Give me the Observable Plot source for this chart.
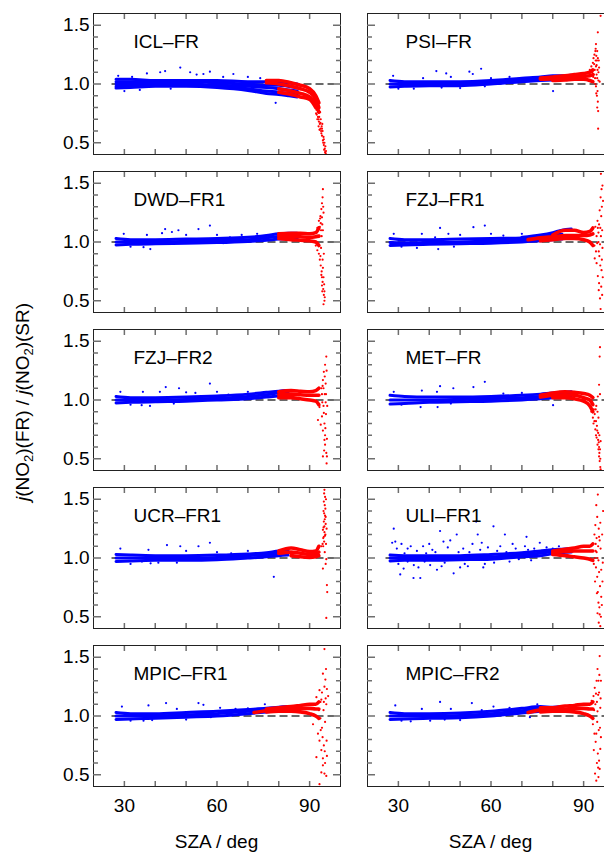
<!DOCTYPE html>
<html>
<head>
<meta charset="utf-8">
<script src="https://cdn.jsdelivr.net/npm/d3@7"></script>
<script src="https://cdn.jsdelivr.net/npm/@observablehq/plot@0.6"></script>
<style>
html, body { margin: 0; padding: 0; background: #fff; width: 604px; height: 852px; overflow: hidden; }
#fig { position: relative; width: 604px; height: 852px; overflow: hidden; font-family: "Liberation Sans", Arial, sans-serif; color: #000; }
.panel { position: absolute; }
.panel svg { max-width: none !important; display: block; }
.xtitle { position: absolute; top: 832px; width: 200px; margin-left: -100px; text-align: center; font-size: 19px; line-height: 19px; white-space: nowrap; }
#ytitle { position: absolute; left: 22px; top: 402px; transform: translate(-50%, -50%) rotate(-90deg); font-size: 19px; line-height: 19px; white-space: nowrap; }
#ytitle sub { font-size: 13px; line-height: 0; vertical-align: -4px; }
</style>
</head>
<body>
<div id="fig">
  <div id="ytitle"><i>j</i>(NO<sub>2</sub>)(FR) / <i>j</i>(NO<sub>2</sub>)(SR)</div>
</div>
<script>
// ---------------- data ----------------
const panelNames = ["ICL–FR", "PSI–FR", "DWD–FR1", "FZJ–FR1", "FZJ–FR2", "MET–FR", "UCR–FR1", "ULI–FR1", "MPIC–FR1", "MPIC–FR2"];

const xTickValues = [30, 40, 50, 60, 70, 80, 90];
const xLabelValues = [30, 60, 90];
const yMajorTicks = [0.5, 1.0, 1.5];
const yMinorTicks = [0.6, 0.7, 0.8, 0.9, 1.1, 1.2, 1.3, 1.4];
const xTitle = "SZA / deg";
const refRatio = [1.0];
const refSzaRange = [26, 98];

// blue (SZA < 90) dense bands: individual day curves sampled on a SZA grid
const blueGrid = [27.3, 32, 40, 50, 60, 70, 76, 80, 83, 86];
const blueCurves = [
  [ // ICL-FR
    [1.04, 1.04, 1.03, 1.03, 1.03, 1.02, 1.02, 1.02, 1.01, 1.00],
    [1.02, 1.02, 1.02, 1.02, 1.01, 1.00, 0.99, 0.99, 0.98, 0.97],
    [1.00, 1.00, 1.00, 1.00, 0.99, 0.98, 0.97, 0.96, 0.95, 0.94],
    [0.98, 0.98, 0.99, 0.99, 0.98, 0.96, 0.94, 0.93, 0.92, 0.91],
    [0.965, 0.97, 0.98, 0.98, 0.97, 0.945, 0.92, 0.91, 0.90, 0.89]
  ],
  [ // PSI-FR
    [1.03, 1.02, 1.02, 1.02, 1.03, 1.05, 1.06, 1.07, 1.07, 1.075],
    [1.00, 1.00, 1.00, 1.00, 1.015, 1.035, 1.045, 1.05, 1.055, 1.06],
    [0.975, 0.98, 0.985, 0.985, 1.00, 1.02, 1.03, 1.035, 1.04, 1.045]
  ],
  [ // DWD-FR1
    [1.03, 1.02, 1.02, 1.025, 1.03, 1.04, 1.055, 1.07, 1.075, 1.075],
    [1.00, 1.00, 1.00, 1.005, 1.013, 1.02, 1.035, 1.047, 1.05, 1.055],
    [0.975, 0.98, 0.985, 0.99, 0.995, 1.005, 1.015, 1.025, 1.03, 1.035]
  ],
  [ // FZJ-FR1
    [null, null, null, null, null, 1.04, 1.06, 1.08, 1.10, 1.11],
    [1.03, 1.02, 1.02, 1.025, 1.03, 1.035, 1.05, 1.06, 1.065, null],
    [0.995, 0.993, 0.995, 1.00, 1.01, 1.02, 1.03, 1.04, 1.045, null],
    [0.97, 0.975, 0.98, 0.985, 0.99, 1.00, 1.01, 1.02, 1.025, null]
  ],
  [ // FZJ-FR2
    [1.03, 1.02, 1.02, 1.025, 1.035, 1.05, 1.065, 1.075, 1.08, null],
    [1.00, 1.00, 1.00, 1.005, 1.015, 1.03, 1.045, 1.06, 1.065, null],
    [0.975, 0.98, 0.985, 0.99, 1.00, 1.01, 1.025, 1.035, 1.045, null]
  ],
  [ // MET-FR
    [1.04, 1.03, 1.025, 1.025, 1.03, 1.04, 1.05, 1.06, 1.065, 1.07],
    [1.00, 1.00, 1.00, 1.005, 1.013, 1.02, 1.03, 1.04, 1.045, 1.05],
    [0.965, 0.97, 0.98, 0.985, 0.99, 1.00, 1.01, 1.02, 1.025, 1.03]
  ],
  [ // UCR-FR1
    [1.03, 1.025, 1.02, 1.02, 1.025, 1.035, 1.045, 1.06, 1.065, null],
    [1.00, 1.00, 1.00, 1.00, 1.005, 1.02, 1.03, 1.04, 1.045, null],
    [0.97, 0.975, 0.98, 0.98, 0.985, 1.00, 1.01, 1.02, 1.025, null]
  ],
  [ // ULI-FR1
    [1.025, 1.02, 1.02, 1.02, 1.03, 1.045, 1.06, 1.07, 1.075, 1.08],
    [1.00, 1.00, 1.00, 1.005, 1.01, 1.027, 1.04, 1.055, 1.06, 1.065],
    [0.975, 0.98, 0.98, 0.985, 0.99, 1.01, 1.02, 1.035, 1.045, 1.05]
  ],
  [ // MPIC-FR1
    [1.03, 1.02, 1.02, 1.03, 1.04, 1.055, 1.065, 1.075, 1.08, null],
    [1.00, 1.00, 1.00, 1.01, 1.02, 1.04, 1.05, 1.06, 1.065, null],
    [0.97, 0.975, 0.98, 0.99, 1.00, 1.02, 1.035, 1.045, 1.05, null]
  ],
  [ // MPIC-FR2
    [1.03, 1.02, 1.02, 1.025, 1.04, 1.065, 1.08, 1.075, 1.08, null],
    [1.00, 1.00, 1.00, 1.005, 1.02, 1.045, 1.06, 1.06, 1.065, null],
    [0.97, 0.975, 0.98, 0.985, 1.00, 1.025, 1.04, 1.045, 1.05, null]
  ]
];

// blue scattered points [SZA, ratio]
const blueSpots = [
  [[28, 1.07], [30, 0.94], [32.5, 1.06], [35, 0.95], [37.3, 1.09], [41.6, 1.10], [43.2, 1.11], [45, 0.96], [48.1, 1.14], [51.3, 1.10], [53.4, 1.08], [55.6, 1.085], [57.7, 1.105], [62, 1.06], [65.3, 1.085], [70, 1.06], [74, 1.05], [79, 0.84]],
  [[28.3, 1.07], [30, 0.96], [35, 0.96], [38, 1.05], [42.3, 1.11], [44, 0.97], [45.5, 1.09], [47, 1.06], [50, 0.965], [53, 1.105], [54.1, 1.085], [56.8, 1.13], [58, 0.98], [60, 1.05], [66, 1.06], [80.1, 0.94]],
  [[29.8, 1.07], [32, 0.96], [36.2, 0.956], [37.3, 1.06], [38.4, 0.94], [42.2, 1.075], [43.2, 1.11], [45.4, 1.085], [47.5, 1.10], [50, 1.06], [54, 1.11], [57.7, 1.14], [60, 1.06], [62, 0.99], [64.2, 1.04], [68, 1.06], [73, 1.07]],
  [[28.5, 1.07], [31, 0.96], [36, 0.95], [37.6, 1.07], [41.9, 1.04], [42.9, 0.94], [43.5, 1.12], [46.2, 1.07], [48, 0.96], [50, 1.06], [54.3, 1.126], [58, 1.14], [60, 1.07], [64, 1.055], [70, 1.07]],
  [[28.7, 1.07], [32, 0.96], [35.6, 0.956], [36, 1.07], [38.3, 0.95], [41.5, 1.07], [43.4, 1.11], [46, 0.97], [47.7, 1.10], [50, 1.065], [53, 1.06], [57.7, 1.14], [60, 1.07], [63.7, 1.045], [70, 1.07]],
  [[28.5, 1.07], [31, 0.96], [37.2, 0.94], [37.6, 1.08], [42.5, 1.07], [42.7, 0.94], [43.5, 1.118], [47, 0.97], [47.8, 1.10], [54.3, 1.11], [58, 1.155], [64, 1.055], [70, 1.06], [80.1, 0.956]],
  [[28.7, 1.08], [32, 0.95], [35.7, 0.97], [37.8, 1.07], [38.5, 0.955], [41, 0.96], [43.8, 1.11], [47, 0.96], [48.1, 1.10], [50, 1.06], [54, 1.10], [57.7, 1.13], [60, 1.05], [64.6, 1.04], [70, 1.06], [78.4, 0.84]],
  [[28, 1.13], [28.5, 1.25], [29, 1.14], [29.5, 1.08], [30, 0.95], [30.6, 0.86], [31, 1.12], [31.7, 0.91], [32, 1.04], [33, 1.08], [33, 0.97], [34, 1.10], [34.9, 0.83], [35, 0.94], [36, 1.06], [36.5, 0.92], [37.1, 0.83], [38, 1.10], [38.5, 0.97], [39, 1.04], [40, 1.12], [40.3, 0.94], [41, 1.07], [42, 1.05], [42.5, 0.90], [43.5, 1.23], [44, 0.93], [44.6, 1.14], [45, 0.96], [46, 1.09], [46.8, 1.15], [47.9, 0.87], [48.9, 1.20], [49.5, 1.05], [50, 0.92], [51, 1.08], [51.5, 0.95], [52.5, 0.93], [53, 1.05], [54, 1.12], [55.2, 1.31], [55.7, 1.20], [56.5, 1.07], [57, 1.13], [57.5, 0.92], [58, 0.95], [59, 1.09], [59.5, 1.02], [60.8, 1.27], [61, 0.96], [62, 1.06], [63, 1.10], [64.5, 1.20], [65, 1.05], [66, 0.97], [67, 1.12], [68, 1.08], [69, 0.99], [71, 1.10], [71.5, 1.18], [72, 1.07], [73, 0.98], [74, 1.08], [75.8, 1.13], [76.5, 1.06], [78, 1.09], [80, 1.08], [82, 1.10]],
  [[29.2, 1.08], [32, 0.96], [36.2, 0.96], [37.8, 1.09], [39, 0.965], [43.5, 1.11], [47, 1.06], [50, 0.97], [54, 1.11], [55.6, 1.095], [58, 0.99], [61, 1.07], [66, 1.06], [70, 1.065], [75.5, 1.10]],
  [[29, 1.09], [31, 0.96], [34, 0.955], [37.6, 1.06], [40.3, 0.96], [43.5, 1.12], [45, 0.97], [47, 1.06], [50, 0.965], [53.8, 1.11], [57, 1.05], [60.8, 1.08], [66, 1.07], [72.6, 0.99], [75, 1.10]]
];

// red (twilight) bands sampled on a SZA grid
const redGrid = [72, 76, 80, 84, 87, 90, 92, 93];
const redCurves = [
  [[null, 1.03, 1.03, 1.01, 0.99, 0.96, 0.90, 0.84], [null, 1.01, 1.00, 0.98, 0.96, 0.93, 0.87, 0.80], [null, null, 0.96, 0.94, 0.92, 0.89, 0.83, 0.76], [null, null, 0.93, 0.91, 0.89, 0.87, 0.80, null]],
  [[null, 1.05, 1.06, 1.07, 1.08, 1.09, 1.10, 1.12], [null, 1.04, 1.045, 1.055, 1.06, 1.065, 1.07, 1.08], [null, null, 1.03, 1.035, 1.04, 1.04, 1.03, 1.02]],
  [[null, null, 1.07, 1.075, 1.075, 1.07, 1.08, 1.12], [null, null, 1.05, 1.05, 1.045, 1.04, 1.045, 1.05], [null, null, 1.03, 1.02, 1.015, 1.01, 1.00, 0.97]],
  [[null, null, 1.06, 1.10, 1.10, 1.08, 1.09, 1.12], [1.02, 1.035, 1.045, 1.055, 1.055, 1.055, 1.06, 1.07], [null, 1.01, 1.02, 1.03, 1.03, 1.02, 1.00, 0.97]],
  [[null, null, 1.07, 1.08, 1.075, 1.07, 1.08, 1.10], [null, null, 1.045, 1.05, 1.045, 1.04, 1.04, 1.04], [null, null, 1.02, 1.02, 1.01, 1.00, 0.99, 0.96]],
  [[null, 1.04, 1.06, 1.07, 1.065, 1.055, 1.04, 1.02], [null, 1.025, 1.04, 1.045, 1.04, 1.02, 1.00, 0.96], [null, null, 1.02, 1.02, 1.01, 0.99, 0.95, 0.90]],
  [[null, null, 1.06, 1.085, 1.07, 1.055, 1.06, 1.10], [null, null, 1.04, 1.05, 1.04, 1.03, 1.035, 1.05], [null, null, null, 1.02, 1.01, 1.005, 1.01, 1.02]],
  [[null, null, 1.06, 1.075, 1.085, 1.10, 1.10, 1.12], [null, null, 1.045, 1.055, 1.06, 1.06, 1.06, 1.06], [null, null, 1.03, 1.02, 1.01, 1.00, 0.99, 0.98]],
  [[null, 1.06, 1.07, 1.08, 1.09, 1.10, 1.10, 1.12], [1.03, 1.045, 1.055, 1.06, 1.065, 1.065, 1.06, 1.06], [null, 1.035, 1.04, 1.04, 1.035, 1.02, 1.00, 0.98]],
  [[null, 1.07, 1.07, 1.085, 1.09, 1.10, 1.10, 1.12], [1.03, 1.05, 1.055, 1.06, 1.065, 1.065, 1.06, 1.06], [null, 1.035, 1.04, 1.04, 1.035, 1.02, 1.00, 0.98]]
];

// red scattered points near sunset [SZA, ratio]
const redSpray = [
  [[91.5, 0.88], [91.8, 0.86], [92, 0.82], [92.1, 0.75], [92.2, 0.78], [92.3, 0.74], [92.4, 0.81], [92.5, 0.70], [92.6, 0.80], [92.7, 0.72], [92.8, 0.76], [92.9, 0.64], [92.9, 0.70], [93, 0.68], [93.1, 0.72], [93.2, 0.61], [93.3, 0.66], [93.4, 0.76], [93.5, 0.62], [93.5, 0.67], [93.6, 0.70], [93.7, 0.60], [93.8, 0.58], [93.9, 0.64], [94, 0.56], [94, 0.62], [94.1, 0.66], [94.2, 0.60], [94.3, 0.52], [94.4, 0.50], [94.5, 0.55], [94.6, 0.48], [94.6, 0.53], [94.7, 0.44], [94.8, 0.50], [94.9, 0.45], [95, 0.42], [95.1, 0.47], [95.2, 0.41], [95.3, 0.43]],
  [[92, 1.12], [92.5, 1.15], [92.8, 1.10], [93, 1.18], [93.1, 1.06], [93.2, 1.22], [93.3, 1.08], [93.4, 1.17], [93.5, 1.25], [93.6, 1.12], [93.7, 1.05], [93.8, 1.28], [93.8, 1.00], [93.9, 1.30], [93.9, 1.20], [94, 1.34], [94, 1.15], [94, 0.98], [94.1, 1.24], [94.1, 0.92], [94.2, 1.16], [94.2, 1.08], [94.3, 1.20], [94.3, 0.90], [94.4, 1.05], [94.4, 1.28], [94.4, 0.80], [94.5, 0.94], [94.5, 1.12], [94.6, 1.44], [94.6, 1.22], [94.6, 0.85], [94.7, 0.77], [94.7, 0.62], [94.8, 1.10], [94.8, 1.03], [94.9, 1.20], [95, 1.14], [95.2, 1.02], [95.5, 1.58]],
  [[92, 0.97], [92.5, 1.12], [92.5, 0.93], [93, 1.18], [93, 0.90], [93.2, 1.05], [93.3, 1.13], [93.3, 0.85], [93.4, 1.20], [93.5, 1.22], [93.5, 0.88], [93.6, 0.80], [93.6, 1.16], [93.7, 1.10], [93.7, 0.95], [93.8, 1.28], [93.8, 0.72], [93.9, 0.75], [93.9, 1.05], [94, 1.33], [94, 1.21], [94, 0.70], [94, 0.63], [94.1, 1.15], [94.1, 0.58], [94.2, 1.38], [94.2, 0.66], [94.2, 0.85], [94.3, 1.45], [94.3, 0.78], [94.3, 1.10], [94.4, 1.30], [94.4, 0.60], [94.5, 1.25], [94.5, 0.47], [94.5, 0.70], [94.6, 0.55], [94.6, 0.90], [94.7, 0.64], [94.8, 0.50], [94.8, 0.58], [94.9, 0.53]],
  [[93.5, 0.97], [93.6, 0.86], [93.8, 1.13], [94, 0.92], [94.2, 0.82], [94.2, 1.05], [94.4, 0.99], [94.5, 1.18], [94.6, 0.71], [94.6, 1.12], [94.8, 1.08], [94.8, 1.00], [94.9, 0.59], [94.9, 0.92], [95, 1.15], [95, 0.65], [95.1, 0.88], [95.2, 1.27], [95.3, 0.52], [95.3, 0.98], [95.4, 1.12], [95.4, 0.80], [95.5, 1.38], [95.5, 0.43], [95.6, 1.58], [95.6, 1.05], [95.7, 1.22], [95.7, 0.62], [95.8, 1.45], [95.8, 0.76], [95.9, 1.30], [95.9, 0.85], [96, 1.10], [96, 0.55], [96.1, 0.95], [96.1, 1.48], [96.2, 0.70], [96.3, 1.35]],
  [[92.7, 0.83], [93.2, 0.94], [93.6, 0.79], [93.8, 1.10], [94, 0.86], [94, 1.05], [94.1, 0.98], [94.2, 1.12], [94.3, 1.17], [94.3, 0.74], [94.3, 0.52], [94.5, 1.10], [94.5, 0.95], [94.6, 1.24], [94.6, 0.89], [94.7, 0.57], [94.8, 0.80], [94.8, 0.66], [94.9, 1.20], [94.9, 1.05], [95, 1.30], [95, 0.62], [95, 0.70], [95.1, 0.76], [95.2, 1.14], [95.2, 0.98], [95.3, 0.88], [95.3, 1.05], [95.4, 1.37], [95.4, 0.55], [95.5, 0.46], [95.5, 1.25], [95.6, 0.67], [95.6, 0.52], [95.7, 0.95]],
  [[92, 0.95], [92.5, 0.90], [93, 0.85], [93.2, 0.80], [93.3, 0.92], [93.5, 0.82], [93.6, 0.88], [93.8, 0.75], [93.9, 0.92], [94, 0.70], [94, 0.82], [94.1, 0.95], [94.2, 0.68], [94.3, 0.78], [94.4, 0.74], [94.5, 0.62], [94.5, 0.90], [94.6, 1.03], [94.7, 0.72], [94.7, 0.66], [94.8, 0.58], [94.8, 0.85], [94.9, 0.64], [95, 0.52], [95, 0.60], [95, 1.13], [95.1, 0.55], [95.1, 0.70], [95.2, 0.48], [95.2, 1.37], [95.3, 1.45], [95.3, 1.05], [95.3, 0.58], [95.4, 0.43], [95.4, 0.50], [95.5, 0.41], [95.5, 0.65]],
  [[93.8, 1.10], [94.2, 1.12], [94.3, 0.91], [94.3, 1.24], [94.4, 1.17], [94.4, 1.10], [94.5, 1.26], [94.5, 1.40], [94.6, 1.48], [94.6, 1.31], [94.6, 1.18], [94.7, 1.38], [94.7, 1.14], [94.7, 1.55], [94.8, 1.58], [94.8, 1.22], [94.8, 1.27], [94.9, 1.33], [94.9, 1.45], [94.9, 1.05], [95, 1.52], [95, 1.19], [95, 1.36], [95.1, 1.42], [95.1, 1.20], [95.2, 1.29], [95.2, 1.35], [95.2, 0.95], [95.3, 1.12], [95.3, 1.50], [95.4, 0.99], [95.4, 0.49], [95.5, 1.25], [95.6, 0.77], [95.7, 0.71]],
  [[93.3, 0.95], [93.5, 1.20], [93.6, 1.00], [93.7, 0.80], [93.8, 1.28], [93.9, 1.12], [93.9, 1.06], [94, 0.92], [94.1, 1.45], [94.2, 1.17], [94.2, 1.05], [94.3, 0.70], [94.4, 1.35], [94.4, 0.84], [94.5, 0.53], [94.5, 1.00], [94.6, 1.54], [94.6, 0.71], [94.7, 1.10], [94.8, 0.62], [94.8, 0.98], [94.9, 1.25], [94.9, 0.45], [95, 0.88], [95, 1.18], [95.1, 0.58], [95.2, 1.15], [95.2, 0.52], [95.3, 0.76], [95.4, 0.42], [95.4, 1.30], [95.5, 1.08], [95.6, 0.50], [95.7, 0.67], [95.7, 0.90], [95.9, 0.60], [96, 1.20], [96.1, 0.80], [96.2, 0.96], [96.3, 1.40]],
  [[91.1, 0.93], [92.2, 1.16], [92.2, 0.65], [92.7, 0.85], [93, 1.05], [93.2, 1.22], [93.2, 0.79], [93.2, 0.42], [93.5, 0.98], [93.5, 1.12], [93.6, 0.88], [93.8, 1.14], [93.8, 0.71], [93.8, 0.52], [94, 0.90], [94, 1.20], [94.2, 0.82], [94.3, 1.36], [94.3, 0.64], [94.3, 0.58], [94.5, 1.05], [94.6, 1.12], [94.6, 0.75], [94.8, 1.57], [94.8, 1.25], [94.8, 0.51], [94.9, 0.70], [95, 0.95], [95, 0.60], [95.1, 1.31], [95.2, 1.15], [95.3, 1.40], [95.4, 1.10], [95.4, 0.49], [95.5, 0.79], [95.6, 1.23], [95.6, 0.66], [96, 1.17]],
  [[92.6, 1.13], [93, 0.93], [93.2, 1.17], [93.3, 0.71], [93.4, 1.05], [93.5, 0.85], [93.6, 1.24], [93.7, 0.51], [93.8, 1.10], [93.9, 0.78], [94, 1.19], [94.1, 0.85], [94.1, 0.45], [94.2, 1.30], [94.3, 1.12], [94.3, 0.60], [94.4, 0.95], [94.5, 1.40], [94.5, 1.04], [94.6, 0.68], [94.7, 0.56], [94.7, 1.18], [94.8, 1.30], [94.8, 0.48], [94.9, 0.88], [95, 1.20], [95, 0.62], [95.1, 1.35], [95.2, 1.51], [95.2, 0.55], [95.3, 0.90], [95.4, 1.07], [95.4, 0.72], [95.5, 1.15], [95.6, 0.82], [95.6, 1.30]]
];

// ---------------- layout & drawing ----------------
const BLUE = "#0000ff", RED = "#ff0000";
const TICK = "#6e6e6e";
const frameLeft = [93, 367], frameTop = 13, rowStep = 158, frameW = 247, frameH = 141;
const mL = 45, mR = 10, mT = 10;
const fig = document.getElementById("fig");

function curveRows(grid, curves) {
  const rows = [];
  curves.forEach((c, k) => c.forEach((v, i) => { if (v != null) rows.push({sza: grid[i], r: v, k}); }));
  return rows;
}

panelNames.forEach((name, p) => {
  const row = Math.floor(p / 2), col = p % 2;
  const bottom = row === 4;
  const mB = bottom ? 40 : 10;
  const blueRows = curveRows(blueGrid, blueCurves[p]);
  const redRows = curveRows(redGrid, redCurves[p]);

  const marks = [
    Plot.ruleY(refRatio, {x1: refSzaRange[0], x2: refSzaRange[1], stroke: "#3a3a3a", strokeWidth: 1.4, strokeDasharray: "8,4"}),
    Plot.line(blueRows, {x: "sza", y: "r", z: "k", stroke: BLUE, strokeWidth: 3, curve: "monotone-x"}),
    Plot.dot(blueSpots[p], {x: d => d[0], y: d => d[1], r: 1.1, fill: BLUE}),
    Plot.line(redRows, {x: "sza", y: "r", z: "k", stroke: RED, strokeWidth: 3.6, curve: "monotone-x"}),
    Plot.dot(redSpray[p], {x: d => d[0], y: d => d[1], r: 1.1, fill: RED, clip: true}),
    Plot.frame({stroke: "#222", strokeWidth: 1}),
    // inward tick marks on all four sides
    Plot.axisY({anchor: "left", ticks: yMajorTicks, tickSize: 8, dx: 8, fill: "none", stroke: TICK, strokeWidth: 1.5, label: null}),
    Plot.axisY({anchor: "left", ticks: yMinorTicks, tickSize: 5, dx: 5, fill: "none", stroke: TICK, strokeWidth: 1.5, label: null}),
    Plot.axisY({anchor: "right", ticks: yMajorTicks, tickSize: 8, dx: -8, fill: "none", stroke: TICK, strokeWidth: 1.5, label: null}),
    Plot.axisY({anchor: "right", ticks: yMinorTicks, tickSize: 5, dx: -5, fill: "none", stroke: TICK, strokeWidth: 1.5, label: null}),
    Plot.axisX({anchor: "bottom", ticks: xTickValues, tickSize: 5, dy: -5, fill: "none", stroke: TICK, strokeWidth: 1.5, label: null}),
    Plot.axisX({anchor: "top", ticks: xTickValues, tickSize: 5, dy: 5, fill: "none", stroke: TICK, strokeWidth: 1.5, label: null}),
    Plot.text([name], {text: d => d, frameAnchor: "top-left", dx: col === 0 ? 40 : 38, dy: 21, lineAnchor: "top", textAnchor: "start", fontSize: 19, fill: "#000"})
  ];
  if (col === 0) {
    marks.push(Plot.axisY({anchor: "left", ticks: yMajorTicks, tickSize: 0, tickPadding: 4, tickFormat: d3.format(".1f"), label: null, fontSize: 19, fill: "#000"}));
  }
  if (bottom) {
    marks.push(Plot.axisX({anchor: "bottom", ticks: xLabelValues, tickSize: 0, tickPadding: 12, label: null, fontSize: 19, fill: "#000"}));
  }

  const W = mL + frameW + mR, H = mT + frameH + mB;
  const svg = Plot.plot({
    width: W,
    height: H,
    marginLeft: mL, marginRight: mR, marginTop: mT, marginBottom: mB,
    x: {domain: [20, 100]},
    y: {domain: [0.4, 1.6]},
    style: {fontFamily: "'Liberation Sans', Arial, sans-serif", fontSize: "19px", color: "#000", background: "transparent", overflow: "visible", maxWidth: "none"},
    marks
  });
  const div = document.createElement("div");
  div.className = "panel";
  div.style.left = (frameLeft[col] - mL) + "px";
  div.style.top = (frameTop + rowStep * row - mT) + "px";
  div.style.width = W + "px";
  div.style.height = H + "px";
  div.appendChild(svg);
  fig.appendChild(div);

  if (bottom) {
    const t = document.createElement("div");
    t.className = "xtitle";
    t.style.left = (frameLeft[col] + frameW / 2) + "px";
    t.textContent = xTitle;
    fig.appendChild(t);
  }
});
</script>
</body>
</html>
